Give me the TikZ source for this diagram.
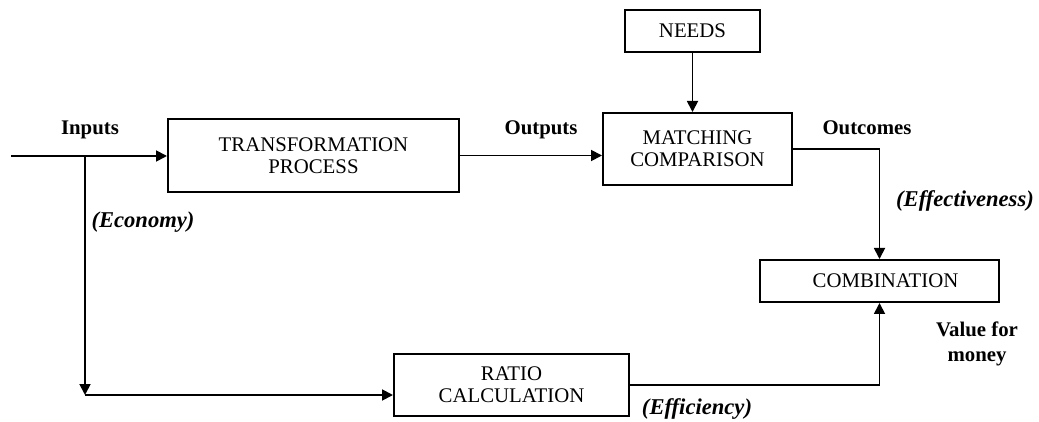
\documentclass[tikz,border=0pt]{standalone}
\usepackage{fontspec}
\setmainfont{Liberation Serif}
\usetikzlibrary{arrows.meta, positioning}

\begin{document}
\begin{tikzpicture}[
    x = 0.5pt, y = -0.5pt, % one unit per pixel of the page
    > = {Triangle[length=5.5pt, width=5.5pt]}, % arrow head style
    line width = 0.9pt % line style
  ]

  \tikzstyle{box} = [draw = black, rectangle, inner sep = 0pt, align = center,
  line width = 1pt, font = \fontsize{10.4}{11}\selectfont]
  \tikzstyle{tag} = [inner sep = 0pt, align = center,
  font = \fontsize{10.4}{12.5}\selectfont\bfseries]
  \tikzstyle{why} = [inner sep = 0pt, font = \fontsize{11.3}{12}\selectfont\bfseries\itshape]

  \useasboundingbox (0,0) rectangle (1039,422);

  \node (trans) [box, minimum width = 145.5pt, minimum height = 36.5pt]
  at (313.5,155.5) {TRANSFORMATION\\PROCESS};
  \node (match) [box, minimum width = 94.5pt, minimum height = 36pt,
  right of = trans, node distance = 192pt, yshift = 3.25pt] {MATCHING\\COMPARISON};
  \node (needs) [box, minimum width = 67.5pt, minimum height = 21pt,
  above of = match, node distance = 59pt, xshift = -2.5pt] {NEEDS};
  \node (comb) [box, minimum width = 119.5pt, minimum height = 21pt]
  at (879.5,281) {\hspace{6pt}COMBINATION};
  \node (ratio) [box, minimum width = 117.5pt, minimum height = 31pt]
  at (511.5,385) {RATIO\\CALCULATION};

  \node (inputs) [tag, anchor = base] at (90,135) {Inputs};
  \node (outputs) [tag, anchor = base] at (541,135) {Outputs};
  \node (outcomes) [tag, anchor = base] at (867,135) {Outcomes};
  \node (value) [tag] at (977,344) {Value for\\money};
  \node (economy) [why, anchor = base] at (143,228) {(Economy)};
  \node (effect) [why, anchor = base] at (965,207) {(Effectiveness)};
  \node (effic) [why, anchor = base] at (697,415) {(Efficiency)};

  \coordinate (start) at (11,156);
  \coordinate (split) at (85,156);
  \coordinate (corner) at (85,395);

  \draw[->] (start) -- (start -| trans.west);
  \draw[->] (split) -- (corner);
  \draw[->] (corner) -- (corner -| ratio.west);
  \draw[->] (trans.east) -- (trans.east -| match.west);
  \draw[->] (needs.south) -- (needs.south |- match.north);
  \draw[->] (match.east) -| (comb.north);
  \draw[->] (ratio.east) -| (comb.south);

\end{tikzpicture}
\end{document}
